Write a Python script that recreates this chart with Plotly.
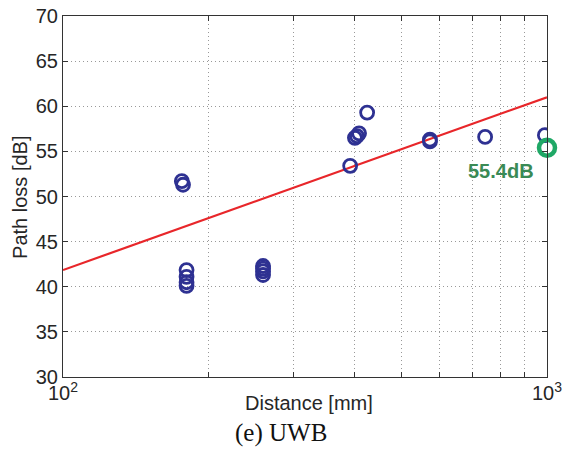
import numpy as np
import plotly.graph_objects as go

# Measured data (distance in mm, path loss in dB)
distance_mm = [176, 177, 180, 180, 180, 180, 259, 259, 259, 259,
               392, 401, 405, 409, 425, 573, 573, 745, 990]
path_loss_db = [51.7, 51.3, 41.85, 41.1, 40.5, 40.1, 42.3, 42.0, 41.7, 41.3,
                53.4, 56.5, 56.7, 57.0, 59.3, 56.3, 56.1, 56.6, 56.8]

# Highlighted point
hl_distance = [1000]
hl_loss = [55.4]
hl_label = "55.4dB"

# Fitted line parameters: PL = PL0 + slope*log10(d/d0)
fit_d = [100, 1000]
fit_pl0 = 41.85
fit_slope = 19.15
fit_pl = [fit_pl0 + fit_slope * np.log10(d / 100) for d in fit_d]

x_tickvals = [100, 200, 300, 400, 500, 600, 700, 800, 900, 1000]
x_ticktext = ["10<sup>2</sup>", "", "", "", "", "", "", "", "", "10<sup>3</sup>"]
y_tickvals = [30, 35, 40, 45, 50, 55, 60, 65, 70]

SANS = "Liberation Sans, Arial, Helvetica"
TXT = "#262626"

fig = go.Figure()
fig.add_trace(go.Scatter(
    x=fit_d, y=fit_pl, mode="lines",
    line=dict(color="#E8262A", width=2.2), showlegend=False))
fig.add_trace(go.Scatter(
    x=distance_mm, y=path_loss_db, mode="markers",
    marker=dict(symbol="circle-open", size=13, color="#2E3192",
                line=dict(width=2.8, color="#2E3192")),
    showlegend=False))
fig.add_trace(go.Scatter(
    x=hl_distance, y=hl_loss, mode="markers",
    marker=dict(symbol="circle-open", size=16, color="#1FA866",
                line=dict(width=4.5, color="#1FA866")),
    showlegend=False, cliponaxis=False))

fig.add_annotation(x=np.log10(805), y=52.8, text="<b>" + hl_label + "</b>",
                   showarrow=False, xanchor="center", yanchor="middle",
                   font=dict(family=SANS, size=20, color="#3A8A55"))

# Axis titles and caption
fig.add_annotation(x=0.508, y=-0.072, xref="paper", yref="paper",
                   text="Distance [mm]", showarrow=False,
                   xanchor="center", yanchor="middle",
                   font=dict(family=SANS, size=20, color=TXT))
fig.add_annotation(x=-0.089, y=0.4986, xref="paper", yref="paper",
                   text="Path loss [dB]", showarrow=False, textangle=-90,
                   xanchor="center", yanchor="middle",
                   font=dict(family=SANS, size=20, color=TXT))
fig.add_annotation(x=0.451, y=-0.155, xref="paper", yref="paper",
                   text="(e) UWB", showarrow=False, xanchor="center", yanchor="middle",
                   font=dict(family="Liberation Serif, Times New Roman", size=25, color="#111111"))

axis_font = dict(family=SANS, size=20, color=TXT)
common = dict(
    ticks="inside", ticklen=5, tickcolor="#333333",
    showline=True, linecolor="#333333", linewidth=1, mirror="ticks",
    showgrid=True, gridcolor="#999999", griddash="1px,3px", gridwidth=1,
    tickfont=axis_font, zeroline=False, automargin=False,
)
fig.update_xaxes(type="log", range=[2, 3], tickvals=x_tickvals, ticktext=x_ticktext,
                 ticklabelstandoff=-2, **common)
fig.update_yaxes(range=[30, 70], tickvals=y_tickvals, ticklabelstandoff=0, **common)

fig.update_layout(
    width=563, height=450,
    margin=dict(l=63, r=16, t=16, b=73),
    paper_bgcolor="white", plot_bgcolor="white",
)
fig.write_html("out.html", config={"displayModeBar": False},
               post_script="document.body.style.margin='0';document.body.style.overflow='hidden';")
